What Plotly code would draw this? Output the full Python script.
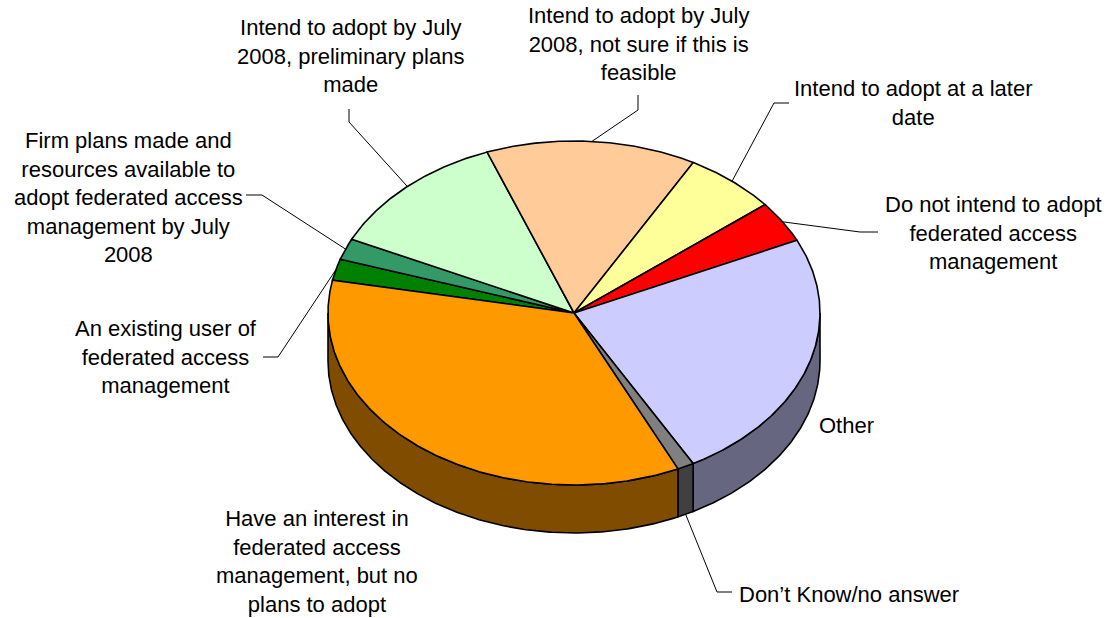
import numpy as np
import plotly.graph_objects as go

# Survey responses on federated access management (share of respondents, %)
categories = [
    "An existing user of<br>federated access<br>management",
    "Firm plans made and<br>resources available to<br>adopt federated access<br>management by July<br>2008",
    "Intend to adopt by July<br>2008, preliminary plans<br>made",
    "Intend to adopt by July<br>2008, not sure if this is<br>feasible",
    "Intend to adopt at a later<br>date",
    "Do not intend to adopt<br>federated access<br>management",
    "Other",
    "Don\u2019t Know/no answer",
    "Have an interest in<br>federated access<br>management, but no<br>plans to adopt",
]
values = [2.0, 2.0, 12.2, 13.8, 6.1, 3.9, 23.9, 1.1, 35.0]
top_colors = ["#008000", "#339966", "#CCFFCC", "#FFCC99", "#FFFF99",
              "#FF0000", "#CCCCFF", "#808080", "#FF9900"]
side_colors = ["#004000", "#1A4D33", "#668066", "#80664D", "#80804D",
               "#800000", "#666680", "#404040", "#804C00"]

# Pie geometry (pixels): tilted disc seen from above
W, H = 1113, 618
CX, CY = 574, 313
RX, RY = 246, 172
DEPTH = 48
FIRST_SLICE_ANGLE = 281  # degrees, clockwise from 12 o'clock

# Label placement (text block centre) and leader-line path from label to slice
label_pos = [
    (166, 357), (128, 197), (350, 56), (638, 44), (913, 103),
    (993, 233), (846, 425), (849, 594), (317, 561),
]
leader_path = [
    [(263, 357), (278, 357)],
    [(246, 195), (262, 195)],
    [(349, 109), (349, 122)],
    [(638, 95), (638, 110)],
    [(789, 103), (774, 103)],
    [(878, 232), (860, 232)],
    None,
    [(732, 592), (717, 592)],
    None,
]


def ex(t):
    return CX + RX * np.sin(np.radians(t))


def ey(t):
    return CY - RY * np.cos(np.radians(t))


total = sum(values)
bounds = [FIRST_SLICE_ANGLE]
for v in values:
    bounds.append(bounds[-1] + 360.0 * v / total)

fig = go.Figure()

# Side wall: only the front half of the rim (90..270 degrees) is visible
for i in range(len(values)):
    a, b = bounds[i], bounds[i + 1]
    for shift in (-360, 0, 360):
        lo, hi = max(a + shift, 90), min(b + shift, 270)
        if hi <= lo:
            continue
        t = np.linspace(lo, hi, max(int((hi - lo) * 2), 2))
        xs = np.concatenate([ex(t), ex(t[::-1])])
        ys = np.concatenate([ey(t), ey(t[::-1]) + DEPTH])
        fig.add_trace(go.Scatter(
            x=np.append(xs, xs[0]), y=np.append(ys, ys[0]),
            mode="lines", fill="toself", fillcolor=side_colors[i],
            line=dict(color="black", width=1.6), hoverinfo="skip"))

# Top faces
for i in range(len(values)):
    a, b = bounds[i], bounds[i + 1]
    t = np.linspace(a, b, max(int((b - a) * 2), 2))
    xs = np.concatenate([[CX], ex(t), [CX]])
    ys = np.concatenate([[CY], ey(t), [CY]])
    fig.add_trace(go.Scatter(
        x=xs, y=ys, mode="lines", fill="toself", fillcolor=top_colors[i],
        line=dict(color="black", width=1.6), hoverinfo="skip"))

# Leader lines to the middle of each slice's rim
for i in range(len(values)):
    path = leader_path[i]
    if path is None:
        continue
    mid = (bounds[i] + bounds[i + 1]) / 2
    m = mid % 360
    px, py = ex(mid), ey(mid)
    if 90 < m < 270:
        py += DEPTH
    xs = [p[0] for p in path] + [px]
    ys = [p[1] for p in path] + [py]
    fig.add_trace(go.Scatter(x=xs, y=ys, mode="lines",
                             line=dict(color="black", width=1),
                             hoverinfo="skip"))

for (lx, ly), text in zip(label_pos, categories):
    fig.add_annotation(x=lx, y=ly, text=text, showarrow=False,
                       xanchor="center", yanchor="middle", align="center",
                       font=dict(family="Liberation Sans, Arial, sans-serif",
                                 size=22, color="black"))

fig.update_layout(
    width=W, height=H, margin=dict(l=0, r=0, t=0, b=0),
    paper_bgcolor="white", plot_bgcolor="white", showlegend=False,
    hovermode=False,
    xaxis=dict(range=[0, W], visible=False, fixedrange=True),
    yaxis=dict(range=[H, 0], visible=False, fixedrange=True),
)

fig.write_html("out.html")
